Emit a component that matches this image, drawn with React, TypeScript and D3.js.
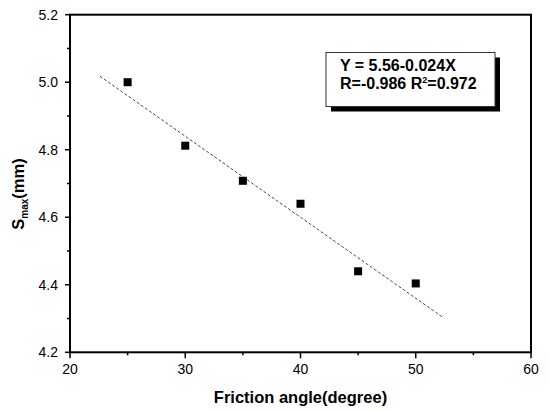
import React from "react";
import * as d3 from "d3";

// Friction angle (degree) vs maximum settlement S_max (mm)
const frictionAngles = [25, 30, 35, 40, 45, 50];
const sMax = [5.0, 4.812, 4.708, 4.64, 4.44, 4.404];

// Linear fit Y = 5.56 - 0.024X drawn over this X span
const fitIntercept = 5.56;
const fitSlope = -0.024;
const fitSpan = [22.6, 52.3];
const fitLines = ["Y = 5.56-0.024X"];

const xTicks = [20, 30, 40, 50, 60];
const xMinor = [25, 35, 45, 55];
const yTicks = [4.2, 4.4, 4.6, 4.8, 5.0, 5.2];
const yMinor = [4.3, 4.5, 4.7, 4.9, 5.1];

const W = 550;
const H = 410;
const left = 70;
const right = 531;
const top = 14.7;
const bottom = 352.3;

export default function App() {
  const x = d3.scaleLinear().domain([20, 60]).range([left, right]);
  const y = d3.scaleLinear().domain([4.2, 5.2]).range([bottom, top]);

  const fit = d3
    .line<number>()
    .x((d) => x(d))
    .y((d) => y(fitIntercept + fitSlope * d));

  const font = "Arial, 'Liberation Sans', sans-serif";
  const bx = 326;
  const by = 52.5;
  const bw = 169;
  const bh = 54;

  return (
    <svg
      width={W}
      height={H}
      viewBox={`0 0 ${W} ${H}`}
      style={{ position: "absolute", left: 0, top: 0, background: "#fff" }}
      fontFamily={font}
    >
      <rect x={0} y={0} width={W} height={H} fill="#fff" />

      {/* fitted line */}
      <path
        d={fit(fitSpan) ?? ""}
        fill="none"
        stroke="#333"
        strokeWidth={0.9}
        strokeDasharray="3,2"
      />

      {/* data markers */}
      {frictionAngles.map((a, i) => (
        <rect
          key={a}
          x={x(a) - 4}
          y={y(sMax[i]) - 4}
          width={8}
          height={8}
          fill="#000"
        />
      ))}

      {/* frame */}
      <rect
        x={left}
        y={top}
        width={right - left}
        height={bottom - top}
        fill="none"
        stroke="#000"
        strokeWidth={2}
      />

      {/* y axis ticks */}
      {yTicks.map((t) => (
        <g key={`y${t}`}>
          <line x1={left - 5} x2={left} y1={y(t)} y2={y(t)} stroke="#000" strokeWidth={1.5} />
          <text
            x={left - 12}
            y={y(t)}
            dy="0.35em"
            textAnchor="end"
            fontSize={14}
            fill="#000"
          >
            {t.toFixed(1)}
          </text>
        </g>
      ))}
      {yMinor.map((t) => (
        <line key={`ym${t}`} x1={left - 3} x2={left} y1={y(t)} y2={y(t)} stroke="#000" strokeWidth={1.5} />
      ))}

      {/* x axis ticks */}
      {xTicks.map((t) => (
        <g key={`x${t}`}>
          <line x1={x(t)} x2={x(t)} y1={bottom} y2={bottom + 6} stroke="#000" strokeWidth={1.5} />
          <text x={x(t)} y={374} textAnchor="middle" fontSize={14} fill="#000">
            {t}
          </text>
        </g>
      ))}
      {xMinor.map((t) => (
        <line key={`xm${t}`} x1={x(t)} x2={x(t)} y1={bottom} y2={bottom + 3} stroke="#000" strokeWidth={1.5} />
      ))}

      {/* axis titles */}
      <text
        x={(left + right) / 2}
        y={403}
        textAnchor="middle"
        fontSize={16.5}
        fontWeight="bold"
        fill="#000"
      >
        Friction angle(degree)
      </text>
      <text
        transform={`translate(24, 194) rotate(-90)`}
        textAnchor="middle"
        fontSize={16.5}
        fontWeight="bold"
        fill="#000"
      >
        S
        <tspan fontSize={10} dy={4}>
          max
        </tspan>
        <tspan dy={-4}>(mm)</tspan>
      </text>

      {/* fit legend box with shadow */}
      <rect x={bx + 5} y={by + 5} width={bw} height={bh} fill="#000" />
      <rect x={bx} y={by} width={bw} height={bh} fill="#fff" stroke="#333" strokeWidth={1} />
      <text x={340} y={70.5} fontSize={16} fontWeight="bold" fill="#000">
        {fitLines[0]}
      </text>
      <text x={340} y={89} fontSize={16} fontWeight="bold" fill="#000">
        R=-0.986 R
        <tspan fontSize={9} dy={-6}>
          2
        </tspan>
        <tspan dy={6}>=0.972</tspan>
      </text>
    </svg>
  );
}
